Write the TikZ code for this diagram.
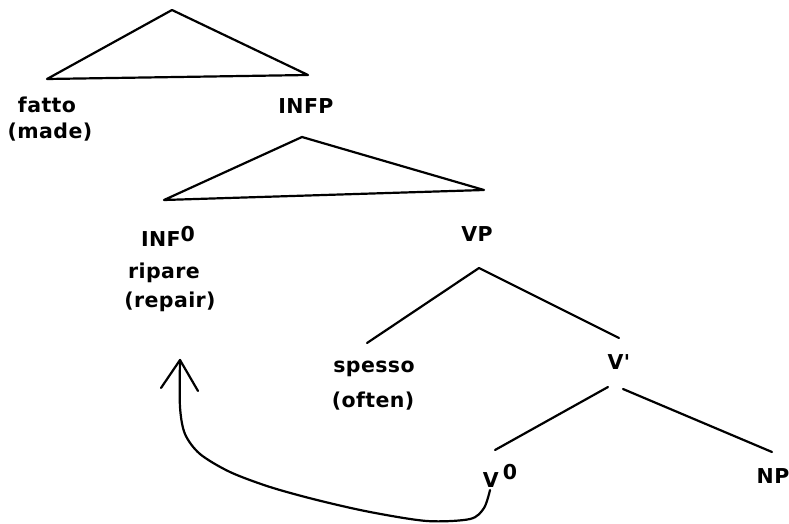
\documentclass[tikz,border=0pt]{standalone}
\usepackage{fontspec}
\newfontfamily\labfont[LetterSpace=2]{DejaVu Sans Bold}
\begin{document}
\begin{tikzpicture}[x=1pt,y=-1pt,
  lab/.style={inner sep=0pt,font=\labfont\fontsize{20.5}{24}\selectfont},
  branch/.style={line width=2.2pt,line cap=round,line join=round},
  mover/.style={line width=2.2pt,line cap=round,line join=round}]
\useasboundingbox[fill=white] (0,0) rectangle (789,524);
% top triangle
\coordinate (t1apex) at (172,10);
\coordinate (t1left) at (47,79);
\coordinate (t1right) at (308,75);
\draw[branch] (t1left) -- (t1apex) -- (t1right) -- (t1left);
\node[lab] (fatto) at (47,105) {fatto};
\node[lab] (made) at (50,132) {(made)};
\node[lab] (infp) at (306,106) {INFP};
% second triangle
\coordinate (t2apex) at (302,137);
\coordinate (t2left) at (164,200);
\coordinate (t2right) at (484,190);
\draw[branch] (t2left) -- (t2apex) -- (t2right) -- (t2left);
\node[lab] (inf0) at (168,236) {INF\raisebox{5pt}{0}};
\node[lab,anchor=base] (ripare) at (164,278) {ripare};
\node[lab,anchor=base] (repair) at (170,307) {(repair)};
\node[lab] (vp) at (477,234) {VP};
% VP branches
\coordinate (vptop) at (479,268);
\coordinate (vpl) at (367,343);
\coordinate (vpr) at (619,338);
\draw[branch] (vpl) -- (vptop) -- (vpr);
\node[lab,anchor=base] (spesso) at (374,372) {spesso};
\node[lab,anchor=base] (often) at (373,407) {(often)};
\node[lab] (vbar) at (619,362) {V'};
% V' branches
\coordinate (vbl) at (608,387);
\coordinate (vbll) at (495,450);
\coordinate (vbr) at (623,389);
\coordinate (vbrr) at (772,452);
\draw[branch] (vbl) -- (vbll);
\draw[branch] (vbr) -- (vbrr);
\node[lab] (v0) at (500,476) {\raisebox{-8pt}{V}\hspace{4pt}0};
\node[lab] (np) at (773,476) {NP};
% movement arrow
\coordinate (mstart) at (490,490);
\coordinate (mtip) at (180,360);
\coordinate (barbl) at (161,388);
\coordinate (barbr) at (198,391);
\draw[mover] plot[smooth,tension=0.5] coordinates {(mstart) (484,508) (470,519) (427,521) (370,512) (317,500) (270,487) (230,472) (200,454) (185,434) (180,407) (mtip)};
\draw[mover] (barbl) -- (mtip) -- (barbr);
\end{tikzpicture}
\end{document}
